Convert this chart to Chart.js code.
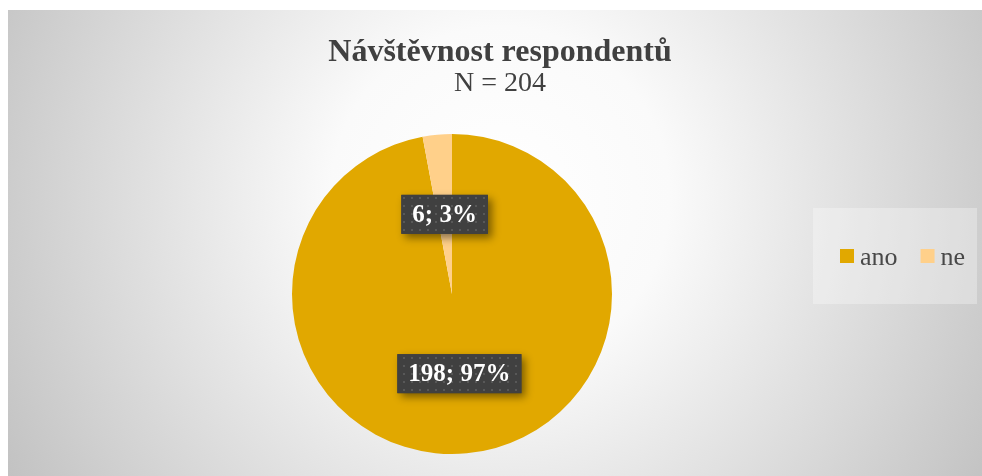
<!DOCTYPE html>
<html>
<head>
<meta charset="utf-8">
<script src="https://cdn.jsdelivr.net/npm/chart.js@4.4.1/dist/chart.umd.min.js"></script>
<style>
html, body { margin: 0; padding: 0; background: #fff; overflow: hidden; }
#wrap {
    position: absolute; left: 8px; top: 10px; width: 984px; height: 466px;
    background: radial-gradient(circle farthest-corner at 50% 40%, #ffffff 0%, #fafafa 30%, #c2c2c2 100%);
}
</style>
</head>
<body>
<div id="wrap"><canvas id="pieChart"></canvas></div>
<script>
"use strict";

const categories = ["ano", "ne"];
const counts = [198, 6];
const titleText = "Návštěvnost respondentů";
const subtitleText = "N = 204";

const FONT = "'Liberation Serif', 'Times New Roman', serif";

// dark dotted fill for the data labels
function makeDotPattern(ctx) {
    const c = document.createElement("canvas");
    c.width = 8; c.height = 8;
    const p = c.getContext("2d");
    p.fillStyle = "#404040";
    p.fillRect(0, 0, 8, 8);
    p.fillStyle = "#585858";
    p.fillRect(3, 3, 2, 2);
    return ctx.createPattern(c, "repeat");
}

// keep room on the right for the legend without moving the title
const legendSpace = {
    id: "legendSpace",
    afterLayout(chart) {
        chart.chartArea.right -= 96;
        chart.chartArea.width -= 96;
    }
};

//DATA LABELS//
const labelBoxes = {
    id: "labelBoxes",
    afterDatasetsDraw(chart) {
        const ctx = chart.ctx;
        const data = chart.data.datasets[0].data;
        const total = data.reduce((a, b) => a + b, 0);
        const pattern = makeDotPattern(ctx);
        chart.getDatasetMeta(0).data.forEach((arc, i) => {
            const pos = arc.tooltipPosition();
            const text = `${data[i]}; ${Math.round(data[i] / total * 100)}%`;
            ctx.save();
            ctx.font = `bold 25px ${FONT}`;
            const w = ctx.measureText(text).width + 22;
            const h = 39;
            const x = pos.x - w / 2, y = pos.y - h / 2;
            ctx.shadowColor = "rgba(0,0,0,0.45)";
            ctx.shadowBlur = 8;
            ctx.shadowOffsetX = 4;
            ctx.shadowOffsetY = 4;
            ctx.fillStyle = "#404040";
            ctx.fillRect(x, y, w, h);
            ctx.shadowColor = "transparent";
            ctx.fillStyle = pattern;
            ctx.fillRect(x, y, w, h);
            ctx.fillStyle = "#ffffff";
            ctx.textAlign = "center";
            ctx.textBaseline = "middle";
            ctx.fillText(text, pos.x, pos.y + 1);
            ctx.restore();
        });
    }
};

//LEGEND//
const sideLegend = {
    id: "sideLegend",
    afterDraw(chart) {
        const ctx = chart.ctx;
        const colors = chart.data.datasets[0].backgroundColor;
        ctx.save();
        ctx.fillStyle = "rgba(255,255,255,0.3)";
        ctx.fillRect(805, 198, 164, 96);
        ctx.font = `26px ${FONT}`;
        ctx.textBaseline = "alphabetic";
        let x = 832;
        chart.data.labels.forEach((label, i) => {
            ctx.fillStyle = colors[i];
            ctx.fillRect(x, 239, 14, 14);
            ctx.fillStyle = "#484848";
            ctx.fillText(label, x + 20, 255);
            x += 20 + ctx.measureText(label).width + 23;
        });
        ctx.restore();
    }
};

new Chart(document.getElementById("pieChart"), {
    type: "pie",
    data: {
        labels: categories,
        datasets: [{
            data: counts,
            backgroundColor: ["#E1A800", "#FFD08A"],
            borderWidth: 0,
            hoverOffset: 0
        }]
    },
    options: {
        responsive: true,
        maintainAspectRatio: false,
        animation: false,
        layout: { padding: { left: 0, right: 0, top: 0, bottom: 22 } },
        plugins: {
            legend: { display: false },
            tooltip: { enabled: false },
            title: {
                display: true,
                text: titleText,
                color: "#404040",
                font: { family: FONT, size: 32, weight: "bold", lineHeight: 1.0 },
                padding: { top: 27, bottom: 0 }
            },
            subtitle: {
                display: true,
                text: subtitleText,
                color: "#404040",
                font: { family: FONT, size: 28, weight: "normal", lineHeight: 1.0 },
                padding: { top: 1, bottom: 36 }
            }
        }
    },
    plugins: [legendSpace, labelBoxes, sideLegend]
});
</script>
</body>
</html>
